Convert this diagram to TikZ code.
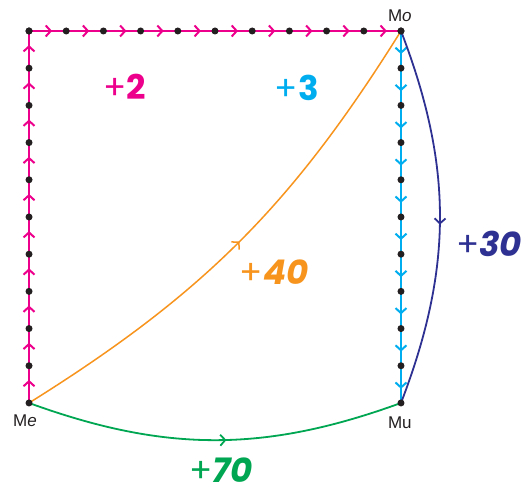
\documentclass[tikz,border=0pt]{standalone}
\usepackage{fontspec}
\setmainfont{Liberation Sans}
\newfontfamily\numfont{Poppins}
\usetikzlibrary{arrows.meta,decorations.markings}
\definecolor{edgepink}{RGB}{236,0,140}
\definecolor{edgecyan}{RGB}{0,174,239}
\definecolor{curveorange}{RGB}{247,148,29}
\definecolor{curvenavy}{RGB}{46,49,146}
\definecolor{curvegreen}{RGB}{0,166,81}
\definecolor{dotblack}{RGB}{35,31,32}
\tikzset{
  midarrow/.style={postaction={decorate},
    decoration={markings,mark=at position #1 with {\arrow{Straight Barb[length=5pt,width=11pt]}}}},
  midarrow/.default=0.62,
  score/.style={font=\numfont\fontsize{34}{40}\selectfont, inner sep=0pt},
  corner/.style={font=\fontsize{17}{20}\selectfont, text=dotblack, inner sep=0pt}
}
\begin{document}
\begin{tikzpicture}[x=37.2pt, y=37.2pt]
  \useasboundingbox (-0.78,-2.366) rectangle (13.495,10.833);
  % corners of the square
  \coordinate (Me) at (0,0);
  \coordinate (Mo) at (10,10);
  \coordinate (Mu) at (10,0);
  % points along the edges
  \foreach \i in {0,...,10} {
    \coordinate (l\i) at (0,\i);
    \coordinate (t\i) at (\i,10);
    \coordinate (r\i) at (10,10-\i);
  }
  % up, across, then down
  \foreach \i [evaluate=\i as \j using int(\i+1)] in {0,...,9} {
    \draw[edgepink, line width=2pt, midarrow] (l\i) -- (l\j);
    \draw[edgepink, line width=2pt, midarrow] (t\i) -- (t\j);
    \draw[edgecyan, line width=2pt, midarrow] (r\i) -- (r\j);
  }
  % the shortcuts
  \draw[curveorange, line width=1.5pt, midarrow=0.5] (Me) to[bend right=13] (Mo);
  \draw[curvenavy, line width=1.8pt, midarrow=0.52] (Mo) to[bend left=21] (Mu);
  \draw[curvegreen, line width=1.8pt, midarrow=0.53] (Me) to[bend right=20] (Mu);
  % dots
  \foreach \i in {0,...,10}
    \fill[dotblack] (l\i) circle (3.5pt) (t\i) circle (3.5pt) (r\i) circle (3.5pt);
  % labels
  \node[corner] (meLabel) at (-0.11,-0.48) {M\textit{e}};
  \node[corner] (moLabel) at (9.97,10.40) {M\textit{o}};
  \node[corner] (muLabel) at (9.97,-0.54) {Mu};
  \node[score, text=edgepink] (two) at (2.58,8.49) {+\textbf{2}};
  \node[score, text=edgecyan] (three) at (7.20,8.47) {+\textbf{3}};
  \node[score, text=curveorange] (forty) at (6.59,3.52) {+\textbf{\textit{40}}};
  \node[score, text=curvenavy] (thirty) at (12.37,4.27) {+\textbf{\textit{30}}};
  \node[score, text=curvegreen] (seventy) at (5.16,-1.80) {+\textbf{\textit{70}}};
\end{tikzpicture}
\end{document}
